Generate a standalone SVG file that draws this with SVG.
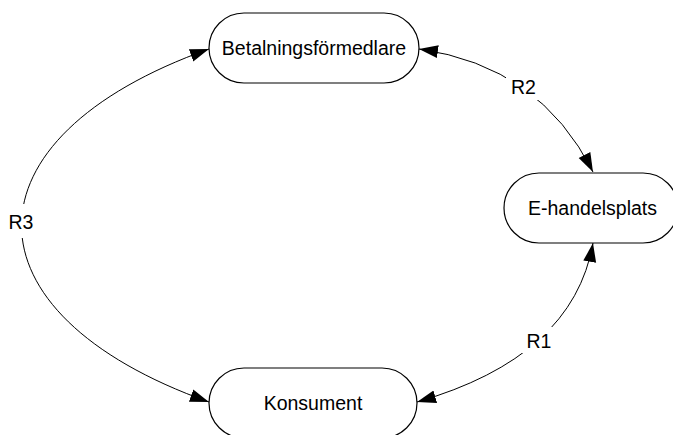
<svg xmlns="http://www.w3.org/2000/svg" width="673" height="435" viewBox="0 0 673 435">
<style>
.node{fill:#ffffff;stroke:#000000;stroke-width:1.2}
.lbl{font-family:"Liberation Sans",Arial,sans-serif;font-size:19.5px;fill:#000000;text-anchor:middle}
.edge{fill:none;stroke:#000000;stroke-width:1;marker-start:url(#ah);marker-end:url(#ah)}
.gap{fill:#ffffff;stroke:none}
</style>
<defs>
<marker id="ah" markerUnits="userSpaceOnUse" markerWidth="20" markerHeight="14" refX="19" refY="6.5" orient="auto-start-reverse" viewBox="0 0 20 13">
<path d="M0,0 L19,6.5 L0,13 Z" fill="#000000"/>
</marker>
</defs>
<rect width="673" height="435" fill="#ffffff"/>
<g id="connectors">
<path class="edge" d="M419,49 Q540,66 593,172"/>
<path class="edge" d="M593,243 Q573,357 417,402"/>
<path class="edge" d="M209,49 C-41,138 -41,313 209,402"/>
<rect class="gap" x="506" y="76" width="34" height="24"/>
<text class="lbl" x="523.5" y="94">R2</text>
<rect class="gap" x="522" y="327" width="34" height="26"/>
<text class="lbl" x="539" y="348">R1</text>
<rect class="gap" x="4" y="204" width="34" height="34"/>
<text class="lbl" x="21" y="229">R3</text>
</g>
<g id="betalningsformedlare">
<rect class="node" x="209" y="13" width="210" height="70" rx="35" ry="35"/>
<text class="lbl" x="314" y="55">Betalningsförmedlare</text>
</g>
<g id="e-handelsplats">
<rect class="node" x="504" y="173" width="174" height="70" rx="35" ry="35"/>
<text class="lbl" x="592.5" y="215">E-handelsplats</text>
</g>
<g id="konsument">
<rect class="node" x="209" y="368" width="208" height="70" rx="35" ry="35"/>
<text class="lbl" x="313" y="410">Konsument</text>
</g>
</svg>
